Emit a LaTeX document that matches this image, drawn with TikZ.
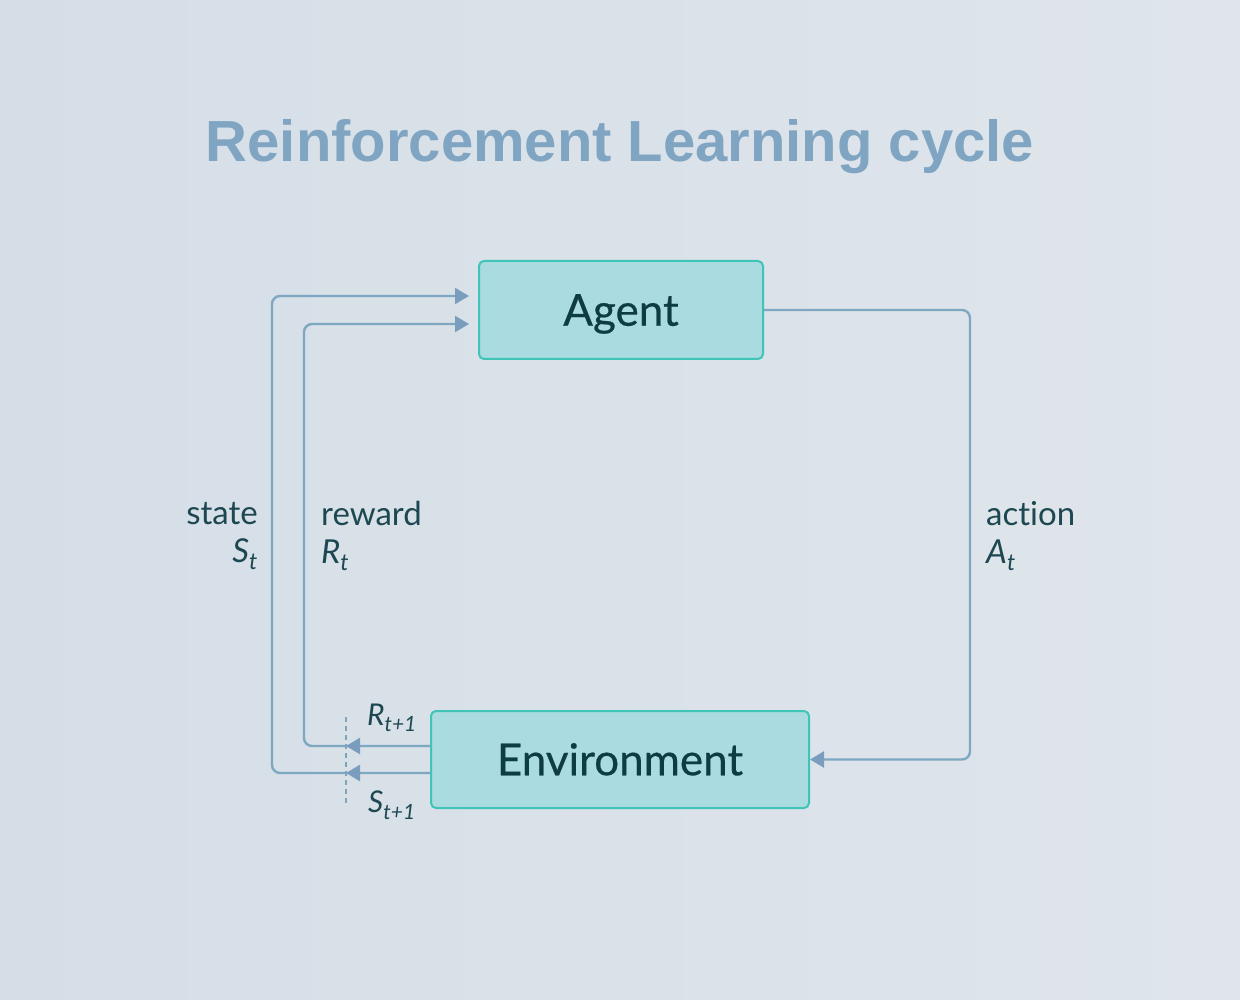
\documentclass[tikz,border=0pt]{standalone}
\usepackage{fontspec}
\setmainfont{Lato}[Ligatures=NoCommon]
\newfontfamily\titlefont{Liberation Sans}
\newfontfamily\boxfont{Lato}[FakeBold=0.5]
\usetikzlibrary{arrows.meta,calc}
\definecolor{bgA}{HTML}{D5DEE7}
\definecolor{bgB}{HTML}{DFE5EB}
\definecolor{boxfill}{HTML}{A9DBE0}
\definecolor{boxline}{HTML}{3FC5B7}
\definecolor{boxtext}{HTML}{0F3C44}
\definecolor{lbltext}{HTML}{1D4852}
\definecolor{linecol}{HTML}{7EA8C2}
\definecolor{tipcol}{HTML}{7A9DBD}
\definecolor{titlecol}{HTML}{80A5C2}
\tikzset{
  box/.style={
    draw=boxline, line width=2pt,
    fill=boxfill,
    rounded corners=5pt,
    text=boxtext,
    font=\boxfont\fontsize{44}{50}\selectfont,
    text height=31.5pt, text depth=0pt,
    inner sep=0
  },
  link/.style={
    draw=linecol, line width=2.4pt,
    rounded corners=8pt
  },
  tip/.style={-{Triangle[length=14pt,width=16pt,fill=tipcol,color=tipcol]}},
  lbl/.style={
    text=lbltext,
    font=\fontsize{33}{38}\selectfont,
    inner sep=0
  },
  sublbl/.style={
    text=lbltext,
    font=\fontsize{30}{34}\selectfont\itshape,
    inner sep=0
  },
  tickline/.style={
    draw=linecol!90!gray, line width=2pt,
    dash pattern=on 5pt off 4pt
  }
}

\begin{document}
\begin{tikzpicture}[x=1pt,y=-1pt]
%%% background
\shade[left color=bgA, right color=bgB] (0,0) rectangle (1240,1000);
\useasboundingbox (0,0) rectangle (1240,1000);

%%% title
\node[text=titlecol, font=\titlefont\bfseries\fontsize{58}{66}\selectfont,
      anchor=base, inner sep=0] (title) at (620,162) {Reinforcement Learning cycle};

%%% the two boxes
\node[box, minimum width=284, minimum height=98] (agent) at (621,310) {Agent};
\node[box, minimum width=378, minimum height=97] (env) at (620,759.5) {Environment};

%%% end points of the connectors
\coordinate (sout) at ($(env.west)+(0,13.5)$);
\coordinate (rout) at ($(env.west)+(0,-13.5)$);
\coordinate (sin) at ($(agent.west)+(-9,-14)$);
\coordinate (rin) at ($(agent.west)+(-9,14)$);
\coordinate (tick) at (346,760);

%%% action
\draw[link, tip] (agent.east) -- ++(206,0) |- (env.east);
%%% state and reward
\draw[link, tip] (sout) -- ++(-158,0) |- (sin);
\draw[link, tip] (rout) -- ++(-126,0) |- (rin);
\draw[link, tip] (sout) -- (sout -| tick);
\draw[link, tip] (rout) -- (rout -| tick);
\draw[tickline] ($(tick)+(0,-43)$) -- ($(tick)+(0,43)$);

%%% labels
\node[lbl, align=right, anchor=east] (statelbl) at (258,536) {state\\\textit{S\textsubscript{t}}};
\node[lbl, align=left, anchor=west] (rewardlbl) at (321,536) {reward\\\textit{R\textsubscript{t}}};
\node[lbl, align=left, anchor=west] (actionlbl) at (986,536) {action\\\textit{A\textsubscript{t}}};
\node[sublbl] (rnext) at (392,718) {R\textsubscript{t+1}};
\node[sublbl] (snext) at (392,805) {S\textsubscript{t+1}};

\end{tikzpicture}
\end{document}
